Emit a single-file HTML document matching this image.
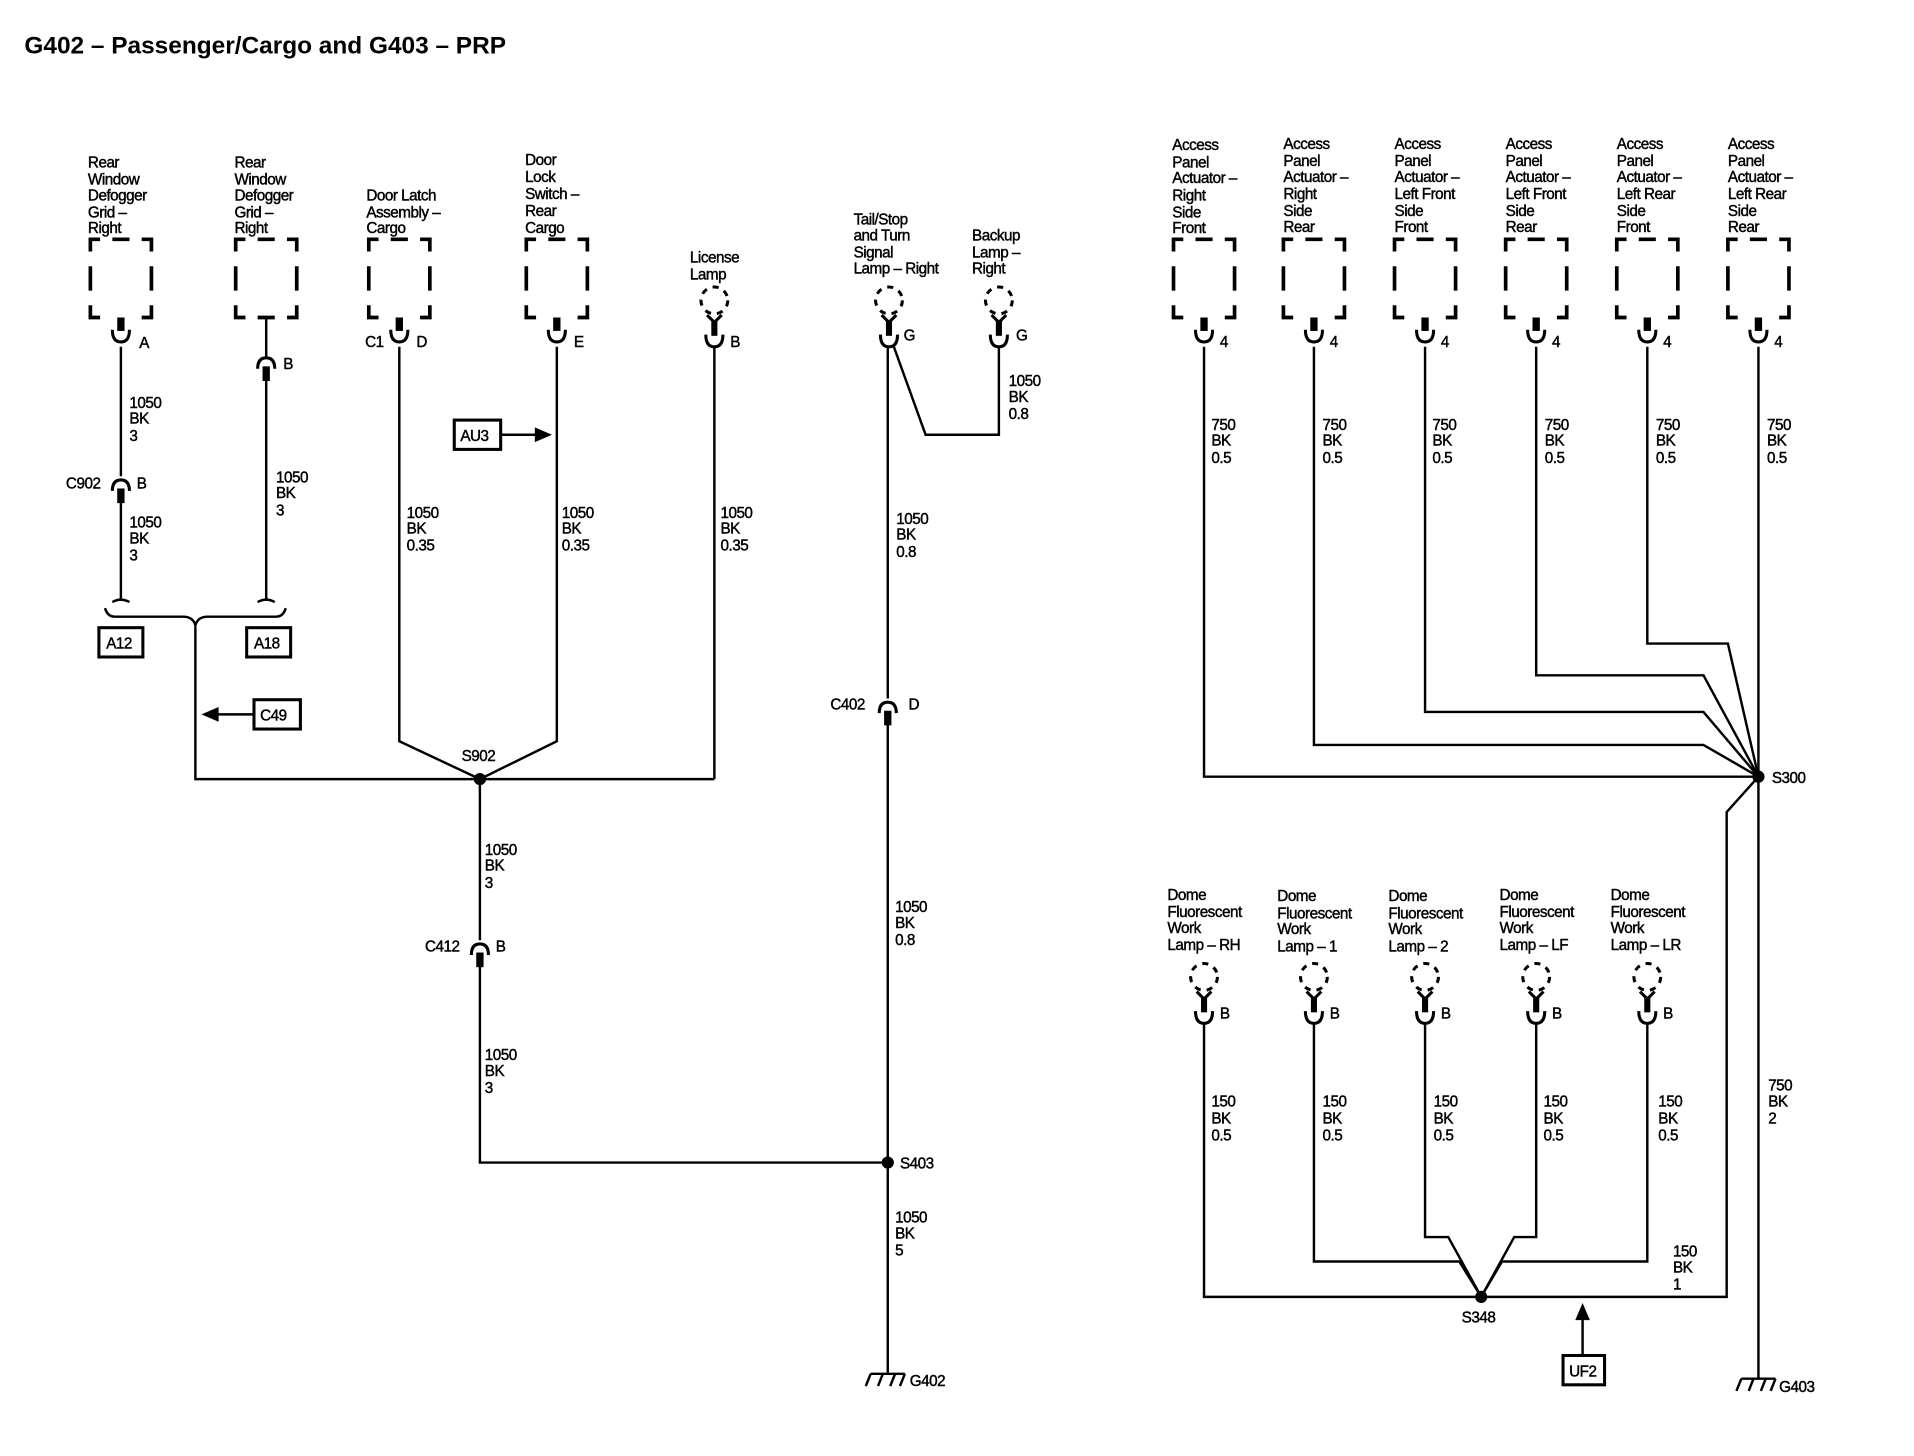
<!DOCTYPE html>
<html><head><style>
html,body{margin:0;padding:0;background:#fff;}
svg{display:block;}
text{font-family:"Liberation Sans",sans-serif;font-size:12.5px;fill:#000;stroke:#000;stroke-width:0.35;letter-spacing:-0.4px;}
.t{font-size:20px;font-weight:bold;letter-spacing:0;stroke-width:0;}
</style></head><body>
<svg width="1914" height="1456" viewBox="0 0 1567.4 1192.3" preserveAspectRatio="none" xmlns="http://www.w3.org/2000/svg">
<defs>
<g id="box" fill="none" stroke="#000" stroke-width="3">
<path d="M-25,10 V0 H-17 M-7,0 H7 M17,0 H25 V10 M-25,22 V42 M25,22 V42 M-25,54 V64 H-17 M17,64 H25 V54"/>
<rect x="-3" y="64" width="6" height="11" fill="#000" stroke="none"/>
<path d="M-7,74 Q-7,84 0,84 Q7,84 7,74" stroke-width="2.5"/>
</g>
<g id="lamp" fill="none" stroke="#000">
<circle cx="0" cy="0" r="11" stroke-width="2.5" stroke-dasharray="5 5"/>
<path d="M-6,12 L0,18 L6,12" stroke-width="2.5"/>
<rect x="-2.5" y="17" width="5" height="12" fill="#000" stroke="none"/>
<path d="M-7,28 Q-7,38 0,38 Q7,38 7,28" stroke-width="2.5"/>
</g>
<g id="fem" fill="none" stroke="#000">
<path d="M-7,6 Q-7,-3 0,-3 Q7,-3 7,6" stroke-width="2.5"/>
<rect x="-3" y="4" width="6" height="12" fill="#000" stroke="none"/>
</g>
<g id="gnd" fill="none" stroke="#000" stroke-width="2">
<path d="M-14,0 H14 M-14,0 L-18,10 M-4,0 L-8,10 M6,0 L2,10 M14,0 L10,10"/>
</g>
</defs>
<text x="20" y="44" class="t">G402 – Passenger/Cargo and G403 – PRP</text>

<g fill="none" stroke="#000" stroke-width="2">
<path d="M99,284 V390 M99,410 V492"/>
<path d="M218,260 V292 M218,312 V492"/>
<path d="M86,498 Q88,505 94,505 H150 Q158,505 160,512 Q162,505 170,505 H226 Q232,505 234,498"/>
<path d="M92,493 Q99,489 106,493 M211,493 Q218,489 225,493"/>
<path d="M160,513 V638 H585"/>
<path d="M327,284 V607 L393,638 L456,607 V284"/>
<path d="M585,284 V638"/>
<path d="M393,638 V770 M393,790 V952 H727"/>
<path d="M727,284 V572 M727,592 V1124"/>
<path d="M732,284 L758,356 H818 V284"/>
<path d="M986,284 V636 H1440"/>
<path d="M1076,284 V610 H1395 L1440,636"/>
<path d="M1167,284 V583 H1395 L1440,636"/>
<path d="M1258,284 V553 H1395 L1440,636"/>
<path d="M1349,284 V527 H1415 L1440,636"/>
<path d="M1440,284 V1128"/>
<path d="M1440,636 L1414,665 V1062 H986 V838"/>
<path d="M1076,838 V1033 H1195 L1213,1062 L1230,1033 H1349 V838"/>
<path d="M1167,838 V1013 H1186 L1213,1062 L1240,1013 H1258 V838"/>
<path d="M410,356 H440 M208,585 H176 M1296,1110 V1080"/>
</g>
<g fill="#000">
<path d="M452,356 L438,350 L438,362Z"/>
<path d="M165,585 L179,579 L179,591Z"/>
<path d="M1296,1067 L1290,1081 L1302,1081Z"/>
<circle cx="393" cy="638" r="5"/>
<circle cx="727" cy="952" r="5"/>
<circle cx="1440" cy="636" r="5"/>
<circle cx="1213" cy="1062" r="5"/>
</g>
<g fill="#fff" stroke="#000" stroke-width="2.5">
<rect x="81" y="514" width="36" height="24"/>
<rect x="202" y="514" width="36" height="24"/>
<rect x="208" y="573" width="38" height="24"/>
<rect x="372" y="344" width="38" height="24"/>
<rect x="1280" y="1110" width="34" height="24"/>
</g>
<text x="87" y="531">A12</text><text x="208" y="531">A18</text><text x="213" y="590">C49</text>
<text x="377" y="361">AU3</text><text x="1285" y="1127">UF2</text>

<use href="#box" x="99" y="196"/><use href="#box" x="327" y="196"/><use href="#box" x="456" y="196"/>
<g fill="none" stroke="#000" stroke-width="3"><path d="M193,206 V196 H201 M211,196 H225 M235,196 H243 V206 M193,218 V238 M243,218 V238 M193,250 V260 H201 M235,260 H243 V250 M211,260 H225"/></g>
<use href="#box" x="986" y="196"/><use href="#box" x="1076" y="196"/><use href="#box" x="1167" y="196"/>
<use href="#box" x="1258" y="196"/><use href="#box" x="1349" y="196"/><use href="#box" x="1440" y="196"/>
<use href="#lamp" x="585" y="246"/><use href="#lamp" x="728" y="246"/><use href="#lamp" x="818" y="246"/>
<use href="#lamp" x="986" y="800"/><use href="#lamp" x="1076" y="800"/><use href="#lamp" x="1167" y="800"/>
<use href="#lamp" x="1258" y="800"/><use href="#lamp" x="1349" y="800"/>
<use href="#fem" x="218" y="296"/><use href="#fem" x="99" y="396"/><use href="#fem" x="393" y="776"/><use href="#fem" x="727" y="578"/>
<use href="#gnd" x="727" y="1125"/><use href="#gnd" x="1440" y="1129"/>

<text x="72" y="137">Rear</text><text x="72" y="151">Window</text><text x="72" y="164">Defogger</text><text x="72" y="178">Grid –</text><text x="72" y="191">Right</text>
<text x="192" y="137">Rear</text><text x="192" y="151">Window</text><text x="192" y="164">Defogger</text><text x="192" y="178">Grid –</text><text x="192" y="191">Right</text>
<text x="300" y="164">Door Latch</text><text x="300" y="178">Assembly –</text><text x="300" y="191">Cargo</text>
<text x="430" y="135">Door</text><text x="430" y="149">Lock</text><text x="430" y="163">Switch –</text><text x="430" y="177">Rear</text><text x="430" y="191">Cargo</text>
<text x="565" y="215">License</text><text x="565" y="229">Lamp</text>
<text x="699" y="184">Tail/Stop</text><text x="699" y="197">and Turn</text><text x="699" y="211">Signal</text><text x="699" y="224">Lamp – Right</text>
<text x="796" y="197">Backup</text><text x="796" y="211">Lamp –</text><text x="796" y="224">Right</text>

<text x="114" y="285">A</text><text x="232" y="302">B</text><text x="299" y="284">C1</text><text x="341" y="284">D</text><text x="470" y="284">E</text>
<text x="598" y="284">B</text><text x="740" y="279">G</text><text x="832" y="279">G</text>
<text x="54" y="400">C902</text><text x="112" y="400">B</text><text x="348" y="779">C412</text><text x="406" y="779">B</text>
<text x="680" y="581">C402</text><text x="744" y="581">D</text>
<text x="378" y="623">S902</text><text x="737" y="957">S403</text><text x="745" y="1135">G402</text>

<text x="106" y="334">1050</text><text x="106" y="347">BK</text><text x="106" y="361">3</text>
<text x="106" y="432">1050</text><text x="106" y="445">BK</text><text x="106" y="459">3</text>
<text x="226" y="395">1050</text><text x="226" y="408">BK</text><text x="226" y="422">3</text>
<text x="333" y="424">1050</text><text x="333" y="437">BK</text><text x="333" y="451">0.35</text>
<text x="460" y="424">1050</text><text x="460" y="437">BK</text><text x="460" y="451">0.35</text>
<text x="590" y="424">1050</text><text x="590" y="437">BK</text><text x="590" y="451">0.35</text>
<text x="826" y="316">1050</text><text x="826" y="329">BK</text><text x="826" y="343">0.8</text>
<text x="734" y="429">1050</text><text x="734" y="442">BK</text><text x="734" y="456">0.8</text>
<text x="397" y="700">1050</text><text x="397" y="713">BK</text><text x="397" y="727">3</text>
<text x="397" y="868">1050</text><text x="397" y="881">BK</text><text x="397" y="895">3</text>
<text x="733" y="747">1050</text><text x="733" y="760">BK</text><text x="733" y="774">0.8</text>
<text x="733" y="1001">1050</text><text x="733" y="1014">BK</text><text x="733" y="1028">5</text>

<g>
<text x="960" y="123">Access</text><text x="960" y="137">Panel</text><text x="960" y="150">Actuator –</text><text x="960" y="164">Right</text><text x="960" y="178">Side</text><text x="960" y="191">Front</text>
<text x="1051" y="122">Access</text><text x="1051" y="136">Panel</text><text x="1051" y="149">Actuator –</text><text x="1051" y="163">Right</text><text x="1051" y="177">Side</text><text x="1051" y="190">Rear</text>
<text x="1142" y="122">Access</text><text x="1142" y="136">Panel</text><text x="1142" y="149">Actuator –</text><text x="1142" y="163">Left Front</text><text x="1142" y="177">Side</text><text x="1142" y="190">Front</text>
<text x="1233" y="122">Access</text><text x="1233" y="136">Panel</text><text x="1233" y="149">Actuator –</text><text x="1233" y="163">Left Front</text><text x="1233" y="177">Side</text><text x="1233" y="190">Rear</text>
<text x="1324" y="122">Access</text><text x="1324" y="136">Panel</text><text x="1324" y="149">Actuator –</text><text x="1324" y="163">Left Rear</text><text x="1324" y="177">Side</text><text x="1324" y="190">Front</text>
<text x="1415" y="122">Access</text><text x="1415" y="136">Panel</text><text x="1415" y="149">Actuator –</text><text x="1415" y="163">Left Rear</text><text x="1415" y="177">Side</text><text x="1415" y="190">Rear</text>
</g>
<text x="999" y="284">4</text><text x="1089" y="284">4</text><text x="1180" y="284">4</text><text x="1271" y="284">4</text><text x="1362" y="284">4</text><text x="1453" y="284">4</text>
<g>
<text x="992" y="352">750</text><text x="992" y="365">BK</text><text x="992" y="379">0.5</text>
<text x="1083" y="352">750</text><text x="1083" y="365">BK</text><text x="1083" y="379">0.5</text>
<text x="1173" y="352">750</text><text x="1173" y="365">BK</text><text x="1173" y="379">0.5</text>
<text x="1265" y="352">750</text><text x="1265" y="365">BK</text><text x="1265" y="379">0.5</text>
<text x="1356" y="352">750</text><text x="1356" y="365">BK</text><text x="1356" y="379">0.5</text>
<text x="1447" y="352">750</text><text x="1447" y="365">BK</text><text x="1447" y="379">0.5</text>
</g>
<text x="1451" y="641">S300</text><text x="1457" y="1140">G403</text>
<text x="1448" y="893">750</text><text x="1448" y="906">BK</text><text x="1448" y="920">2</text>

<g>
<text x="956" y="737">Dome</text><text x="956" y="751">Fluorescent</text><text x="956" y="764">Work</text><text x="956" y="778">Lamp – RH</text>
<text x="1046" y="738">Dome</text><text x="1046" y="752">Fluorescent</text><text x="1046" y="765">Work</text><text x="1046" y="779">Lamp – 1</text>
<text x="1137" y="738">Dome</text><text x="1137" y="752">Fluorescent</text><text x="1137" y="765">Work</text><text x="1137" y="779">Lamp – 2</text>
<text x="1228" y="737">Dome</text><text x="1228" y="751">Fluorescent</text><text x="1228" y="764">Work</text><text x="1228" y="778">Lamp – LF</text>
<text x="1319" y="737">Dome</text><text x="1319" y="751">Fluorescent</text><text x="1319" y="764">Work</text><text x="1319" y="778">Lamp – LR</text>
</g>
<text x="999" y="834">B</text><text x="1089" y="834">B</text><text x="1180" y="834">B</text><text x="1271" y="834">B</text><text x="1362" y="834">B</text>
<g>
<text x="992" y="906">150</text><text x="992" y="920">BK</text><text x="992" y="934">0.5</text>
<text x="1083" y="906">150</text><text x="1083" y="920">BK</text><text x="1083" y="934">0.5</text>
<text x="1174" y="906">150</text><text x="1174" y="920">BK</text><text x="1174" y="934">0.5</text>
<text x="1264" y="906">150</text><text x="1264" y="920">BK</text><text x="1264" y="934">0.5</text>
<text x="1358" y="906">150</text><text x="1358" y="920">BK</text><text x="1358" y="934">0.5</text>
</g>
<text x="1370" y="1029">150</text><text x="1370" y="1042">BK</text><text x="1370" y="1056">1</text>
<text x="1197" y="1083">S348</text>
</svg>
</body></html>
